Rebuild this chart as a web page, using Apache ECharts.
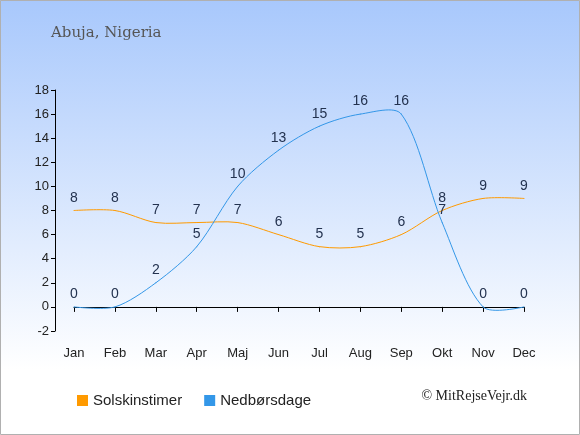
<!DOCTYPE html>
<html>
<head>
<meta charset="utf-8">
<script src="https://cdn.jsdelivr.net/npm/echarts@6/dist/echarts.min.js"></script>
<style>
  html, body { margin: 0; padding: 0; }
  #chart { width: 580px; height: 435px; }
</style>
</head>
<body>
<div id="chart"></div>
<script>
// months on the x axis
var months = ['Jan', 'Feb', 'Mar', 'Apr', 'Maj', 'Jun', 'Jul', 'Aug', 'Sep', 'Okt', 'Nov', 'Dec']
// sunshine hours per day
var solskinstimer = [8, 8, 7, 7, 7, 6, 5, 5, 6, 8, 9, 9]
// days with rain
var nedboersdage = [0, 0, 2, 5, 10, 13, 15, 16, 16, 7, 0, 0]

var SMOOTH = 0.3

var chart = echarts.init(document.getElementById('chart'))

// control points of point k (prev side and next side), no clamping so the curve can overshoot
function controlPoints(pts, k) {
    var p = pts[k]
    if (k === 0 || k === pts.length - 1) return [p, p]
    var prev = pts[k - 1], next = pts[k + 1]
    var vx = next[0] - prev[0], vy = next[1] - prev[1]
    var lenPrev = Math.hypot(p[0] - prev[0], p[1] - prev[1])
    var lenNext = Math.hypot(next[0] - p[0], next[1] - p[1])
    var r = lenNext / (lenPrev + lenNext)
    return [
        [p[0] - vx * SMOOTH * (1 - r), p[1] - vy * SMOOTH * (1 - r)],
        [p[0] + vx * SMOOTH * r, p[1] + vy * SMOOTH * r]
    ]
}

function curveSeries(name, values, color) {
    return {
        name: name,
        type: 'custom',
        data: values.map(function (v, i) { return [i, v] }),
        encode: { x: 0, y: 1 },
        silent: true,
        animation: false,
        z: 2,
        renderItem: function (params, api) {
            var i = params.dataIndex
            if (i >= values.length - 1) return null
            var pts = values.map(function (v, k) { return api.coord([k, v]) })
            var a = controlPoints(pts, i)[1]
            var b = controlPoints(pts, i + 1)[0]
            return {
                type: 'bezierCurve',
                shape: {
                    x1: pts[i][0], y1: pts[i][1],
                    cpx1: a[0], cpy1: a[1],
                    cpx2: b[0], cpy2: b[1],
                    x2: pts[i + 1][0], y2: pts[i + 1][1]
                },
                style: { fill: null, stroke: color, lineWidth: 1 }
            }
        }
    }
}

// invisible line, only for the value labels and the legend
function labelSeries(name, data, color) {
    return {
        name: name,
        type: 'line',
        data: data,
        symbol: 'circle',
        symbolSize: 1,
        lineStyle: { width: 0, opacity: 0 },
        itemStyle: { color: color },
        label: {
            show: true,
            position: 'top',
            distance: 5,
            color: '#23324f',
            fontSize: 14,
            fontFamily: 'Liberation Sans'
        },
        emphasis: { disabled: true },
        animation: false,
        z: 3
    }
}

var option = {
    backgroundColor: {
        type: 'linear', x: 0, y: 0, x2: 0, y2: 1,
        colorStops: [
            { offset: 0, color: '#a8c8fc' },
            { offset: 0.85, color: '#ffffff' },
            { offset: 1, color: '#ffffff' }
        ]
    },
    title: {
        text: 'Abuja, Nigeria',
        left: 46,
        top: 21,
        textStyle: {
            fontFamily: 'DejaVu Serif',
            fontSize: 15,
            fontWeight: 'normal',
            color: '#555555'
        }
    },
    legend: {
        left: 72,
        top: 388,
        icon: 'rect',
        itemWidth: 11,
        itemHeight: 11,
        itemGap: 22,
        textStyle: { fontFamily: 'Liberation Sans', fontSize: 15, color: '#222222' },
        data: ['Solskinstimer', 'Nedbørsdage']
    },
    grid: { left: 74, right: 56, top: 90, bottom: 104 },
    xAxis: {
        type: 'category',
        data: months,
        boundaryGap: false,
        offset: 10,
        axisLine: { lineStyle: { color: '#000', width: 1 } },
        axisTick: { length: 5, lineStyle: { color: '#000' } },
        axisLabel: { color: '#222', fontSize: 13, fontFamily: 'Liberation Sans', margin: 6 },
        splitLine: { show: false }
    },
    yAxis: {
        type: 'value',
        min: -2,
        max: 18,
        interval: 2,
        offset: 19,
        axisLine: { show: true, lineStyle: { color: '#000', width: 1 } },
        axisTick: { show: true, length: 4, lineStyle: { color: '#000' } },
        axisLabel: { color: '#222', fontSize: 13, fontFamily: 'Liberation Sans', margin: 6 },
        splitLine: { show: false }
    },
    graphic: [
        {
            type: 'text',
            right: 53,
            top: 389,
            style: {
                text: '© MitRejseVejr.dk',
                font: '14px "Liberation Serif"',
                fill: '#222'
            }
        },
        {
            type: 'rect',
            shape: { x: 0.5, y: 0.5, width: 579, height: 434 },
            style: { fill: 'none', stroke: '#b0b0b0', lineWidth: 1 },
            silent: true
        }
    ],
    series: [
        labelSeries('Solskinstimer', solskinstimer, '#ff9a00'),
        labelSeries('Nedbørsdage', nedboersdage, '#3397e8'),
        curveSeries('Solskinstimer', solskinstimer, '#ff9a00'),
        curveSeries('Nedbørsdage', nedboersdage, '#3397e8')
    ]
}

chart.setOption(option)
</script>
</body>
</html>
